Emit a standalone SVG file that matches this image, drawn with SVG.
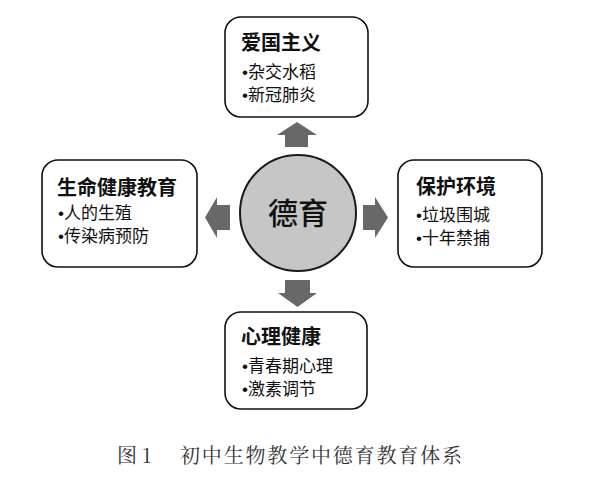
<svg xmlns="http://www.w3.org/2000/svg" width="592" height="478" viewBox="0 0 592 478">
<style>
.box{fill:#fff;stroke:#111;stroke-width:1.6}
.t{font-family:"Noto Sans CJK SC","Noto Sans",sans-serif;font-weight:bold;font-size:20px;fill:#111}
.i{font-family:"Noto Sans CJK SC","Noto Sans",sans-serif;font-size:17px;fill:#111}
.b{font-family:"Liberation Sans",sans-serif}
.arr{fill:#686868}
.cap{font-family:"Noto Serif CJK SC","Liberation Serif","Noto Sans CJK SC",serif;font-size:20px;fill:#333}
</style>
<rect width="592" height="478" fill="#fff"/>
<g id="connectors">
<path class="arr" d="M285,147 V135 H277 L297,122 L317,135 H308 V147 Z"/>
<path class="arr" d="M230,205 H217 V197 L205,217.5 L217,238 V230 H230 Z"/>
<path class="arr" d="M363,205 H375 V197 L388,217.5 L375,238 V230 H363 Z"/>
<path class="arr" d="M285,280 H310 V293 H317 L297.5,307 L278,293 H285 Z"/>
</g>
<g id="center">
<circle cx="298" cy="213" r="58" fill="#c6c6c6" stroke="#1a1a1a" stroke-width="2"/>
<text x="298" y="224" text-anchor="middle" class="t" style="font-size:30px;font-weight:500">德育</text>
</g>
<g id="top">
<rect class="box" x="225" y="17" width="143" height="100" rx="16"/>
<text class="t" x="241" y="50">爱国主义</text>
<text class="i" x="242" y="78"><tspan class="b">•</tspan>杂交水稻</text>
<text class="i" x="242" y="101"><tspan class="b">•</tspan>新冠肺炎</text>
</g>
<g id="left">
<rect class="box" x="42" y="160" width="155" height="107" rx="16"/>
<text class="t" x="57" y="195">生命健康教育</text>
<text class="i" x="58" y="219"><tspan class="b">•</tspan>人的生殖</text>
<text class="i" x="58" y="242"><tspan class="b">•</tspan>传染病预防</text>
</g>
<g id="right">
<rect class="box" x="398" y="160" width="144" height="107" rx="16"/>
<text class="t" x="416" y="194">保护环境</text>
<text class="i" x="416" y="221"><tspan class="b">•</tspan>垃圾围城</text>
<text class="i" x="416" y="244"><tspan class="b">•</tspan>十年禁捕</text>
</g>
<g id="bottom">
<rect class="box" x="225" y="312" width="142" height="97" rx="16"/>
<text class="t" x="241" y="344">心理健康</text>
<text class="i" x="242" y="372"><tspan class="b">•</tspan>青春期心理</text>
<text class="i" x="242" y="395"><tspan class="b">•</tspan>激素调节</text>
</g>
<g id="caption">
<text class="cap" x="117" y="463">图 1</text>
<text class="cap" x="180" y="463" textLength="282" lengthAdjust="spacing">初中生物教学中德育教育体系</text>
</g>
</svg>
